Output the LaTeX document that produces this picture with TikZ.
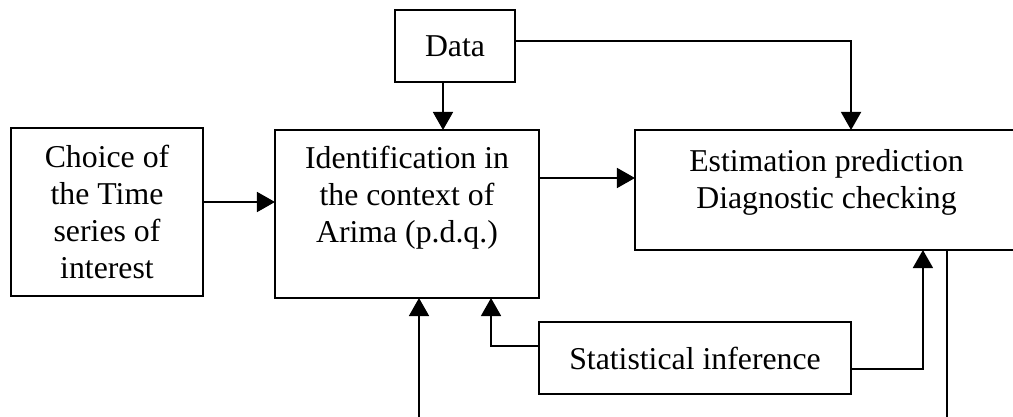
\documentclass[tikz,border=0pt]{standalone}
\usepackage{fontspec}
\setmainfont{Liberation Serif}
\usetikzlibrary{arrows.meta,positioning,calc}
\tikzset{
  block/.style={draw, line width=1.3pt, inner sep=0pt, outer sep=0pt, align=center},
  caption/.style={inner sep=0pt, align=center},
  line/.style={-{Triangle[length=.45cm,width=.5cm]}, line width=1.2pt}
}

\begin{document}
\begin{tikzpicture}[x=0.025cm, y=-0.025cm, font=\fontsize{22.6}{26.3}\selectfont]
  \useasboundingbox (0,0) rectangle (1013,416);
  \clip (0,0) rectangle (1013,416);

  \node[block, minimum width=3cm, minimum height=1.8cm] (data) at (455,46) {Data};
  \node[block, minimum width=4.8cm, minimum height=4.2cm] (choice) at (107,212) {Choice of\\the Time\\series of\\interest};
  \node[block, minimum width=6.6cm, minimum height=4.2cm] (ident) at (407,214) {};
  \node[caption, below=.4cm of ident.north] (identtxt) {Identification in\\the context of\\Arima (p.d.q.)};
  \node[block, minimum width=9.575cm, minimum height=3cm] (estim) at (826.5,190) {};
  \node[caption, below=.475cm of estim.north] (estimtxt) {Estimation prediction\\Diagnostic checking};
  \node[block, minimum width=7.8cm, minimum height=1.8cm] (stat) at (695,358) {Statistical inference};

  \coordinate (back) at (419,440);

  \draw[line] ([xshift=-.3cm]data.south) -- ([xshift=-.3cm]data.south |- ident.north);
  \draw[line] ([yshift=.125cm]data.east) -| (stat.east |- estim.north);
  \draw[line] ([yshift=.25cm]choice.east) -- ([yshift=.25cm]choice.east -| ident.west);
  \draw[line] ([yshift=.9cm]ident.east) -- ([yshift=.9cm]ident.east -| estim.west);
  \draw[line] ([yshift=.3cm]stat.west) -| ([xshift=2.1cm]ident.south);
  \draw[line] ([yshift=-.275cm]stat.east) -| ([xshift=2.41cm]estim.south);
  \draw[line] ([xshift=3.01cm]estim.south) |- (back) -- ([xshift=.3cm]ident.south);
\end{tikzpicture}
\end{document}
